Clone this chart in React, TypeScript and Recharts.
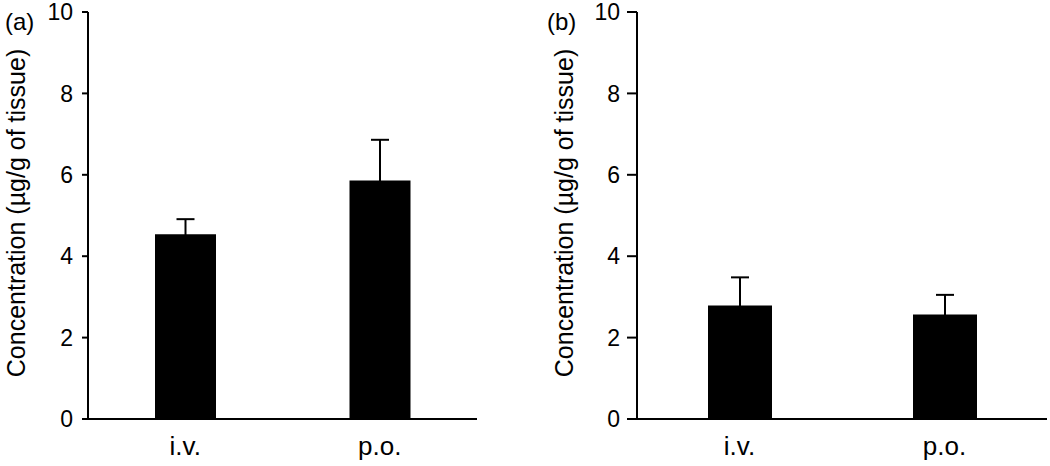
import { BarChart, Bar, XAxis, YAxis, ErrorBar } from "recharts";

const routes = ["i.v.", "p.o."];
const meansA = [4.54, 5.86];
const errorsA = [0.37, 1.0];
const meansB = [2.79, 2.57];
const errorsB = [0.69, 0.48];
const yTicks = [0, 2, 4, 6, 8, 10];

const font = "'Liberation Sans', Arial, sans-serif";
const yTitle = "Concentration (µg/g of tissue)";

const toRows = (means: number[], errs: number[]) =>
  routes.map((name, i) => ({ name, value: means[i], err: errs[i] }));

type PanelProps = {
  rows: any[];
  width: number;
  axisWidth: number;
  right: number;
  barSize: number;
  titleX: number;
  tickSize: number;
  tickMargin: number;
};

function Panel({ rows, width, axisWidth, right, barSize, titleX, tickSize, tickMargin }: PanelProps) {
  // rotated axis title, baseline sits at titleX
  const yLabel = () => (
    <text
      x={titleX}
      y={213}
      transform={`rotate(-90 ${titleX} 213)`}
      textAnchor="middle"
      fontSize={25}
      fontFamily={font}
      fill="#000"
    >
      {yTitle}
    </text>
  );

  return (
    <BarChart
      width={width}
      height={466}
      data={rows}
      margin={{ top: 12, right, bottom: 0, left: 0 }}
    >
      <XAxis
        dataKey="name"
        height={47}
        tickLine={false}
        axisLine={{ stroke: "#000", strokeWidth: 2 }}
        tick={{ fill: "#000", fontSize: 26, fontFamily: font }}
        tickMargin={12}
      />
      <YAxis
        width={axisWidth}
        domain={[0, 10]}
        ticks={yTicks}
        interval={0}
        axisLine={{ stroke: "#000", strokeWidth: 2 }}
        tickLine={{ stroke: "#000", strokeWidth: 2 }}
        tickSize={tickSize}
        tickMargin={tickMargin}
        tick={{ fill: "#000", fontSize: 23, fontFamily: font }}
        label={yLabel}
      />
      <Bar dataKey="value" fill="#000" barSize={barSize} isAnimationActive={false}>
        <ErrorBar dataKey="err" width={9} stroke="#000" strokeWidth={2} direction="y" />
      </Bar>
    </BarChart>
  );
}

export default function App() {
  return (
    <div
      style={{
        position: "absolute",
        left: 0,
        top: 0,
        width: 1050,
        height: 466,
        background: "#fff",
        fontFamily: font,
      }}
    >
      <div style={{ position: "absolute", left: 0, top: 0 }}>
        <Panel
          rows={toRows(meansA, errorsA)}
          width={540}
          axisWidth={88}
          right={63}
          barSize={61}
          titleX={25}
          tickSize={6}
          tickMargin={9}
        />
      </div>
      <div style={{ position: "absolute", left: 540, top: 0 }}>
        <Panel
          rows={toRows(meansB, errorsB)}
          width={510}
          axisWidth={97}
          right={3}
          barSize={64}
          titleX={33}
          tickSize={10}
          tickMargin={7}
        />
      </div>
      <div style={{ position: "absolute", left: 5, top: 8, fontSize: 24, color: "#000" }}>(a)</div>
      <div style={{ position: "absolute", left: 547, top: 8, fontSize: 24, color: "#000" }}>(b)</div>
    </div>
  );
}
